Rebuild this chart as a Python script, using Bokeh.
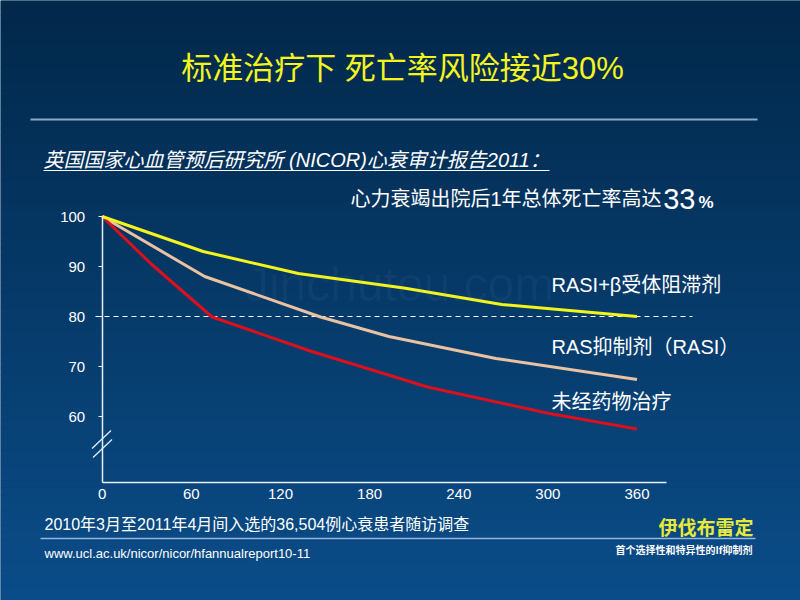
import numpy as np
from bokeh.plotting import figure
from bokeh.models import LinearAxis, FixedTicker, Label
from bokeh.embed import file_html
from bokeh.resources import INLINE

# ---------------- data ----------------
title_text = "标准治疗下 死亡率风险接近30%"
subtitle_text = "英国国家心血管预后研究所 (NICOR)心衰审计报告2011："
headline_text = "心力衰竭出院后1年总体死亡率高达"
headline_num = "33"
headline_pct = "%"

days_beta = [0, 68, 132, 203, 269, 360]
surv_beta = [100, 93.0, 88.6, 85.7, 82.4, 80.0]
days_rasi = [0, 69, 147, 193, 265, 360]
surv_rasi = [100, 88.0, 79.9, 76.0, 71.6, 67.4]
days_none = [0, 33, 74, 140, 219, 301, 360]
surv_none = [100, 90.5, 79.9, 73.1, 65.9, 60.6, 57.5]

series_names = ["RASI+β受体阻滞剂", "RAS抑制剂（RASI）", "未经药物治疗"]
series_colors = ["#f4f41c", "#e9c2a2", "#dc0f1c"]

x_ticks = [0, 60, 120, 180, 240, 300, 360]
x_tick_labels = ["0", "60", "120", "180", "240", "300", "360"]
y_ticks = [60, 70, 80, 90, 100]
y_tick_labels = ["60", "70", "80", "90", "100"]
ref_level = 80
y_axis_floor = 46.8

footnote_text = "2010年3月至2011年4月间入选的36,504例心衰患者随访调查"
url_text = "www.ucl.ac.uk/nicor/nicor/hfannualreport10-11"
brand_text = "伊伐布雷定"
brand_sub = "首个选择性和特异性的If抑制剂"
watermark = "Jinchutou.com"

# ---------------- geometry (page pixel -> data) ----------------
W, H = 800, 600
PX_PER_DAY = 1.4856
PX_PER_UNIT = 5.0
X0_PX = 101.7   # page px of day 0
Y100_PX = 216.0  # page px of value 100


def DX(px):
    return (px - X0_PX) / PX_PER_DAY


def DY(py):
    return 100 - (py - Y100_PX) / PX_PER_UNIT


xs, xe = DX(0), DX(W)
yt, yb = DY(0), DY(H)

CJK = "Liberation Sans, Noto Sans CJK SC"
LAT = "Liberation Sans"

p = figure(width=W, height=H, x_range=(xs, xe), y_range=(yb, yt),
           output_backend="svg", toolbar_location=None, min_border=0,
           x_axis_type=None, y_axis_type=None)
p.outline_line_color = None
p.background_fill_color = "#06386a"
p.border_fill_color = "#06386a"

# background gradient
n = 80
edges = np.linspace(yt, yb, n + 1)
c_top = np.array([0x02, 0x28, 0x4a])
c_bot = np.array([0x0b, 0x4d, 0x89])
cols = []
for i in range(n):
    t = (i + 0.5) / n
    c = (c_top * (1 - t) + c_bot * t).astype(int)
    cols.append("#%02x%02x%02x" % tuple(c))
p.quad(left=xs, right=xe, top=edges[:-1] + 0.05, bottom=edges[1:] - 0.05,
       fill_color=cols, line_color=None)

# watermark
p.add_layout(Label(x=DX(399), y=DY(284), text=watermark, text_align="center",
                   text_baseline="middle", text_font=LAT,
                   text_font_size="48px", text_color="#9fb3c8", text_alpha=0.06))

# title + rule
p.add_layout(Label(x=DX(402), y=DY(68), text=title_text, text_align="center",
                   text_baseline="middle", text_font=CJK, text_font_size="31px",
                   text_color="#f5f51e"))
p.segment(x0=[DX(30)], y0=[DY(119)], x1=[DX(757)], y1=[DY(119)],
          line_color="#8ea7c5", line_width=2)

# subtitle (italic, underlined)
p.add_layout(Label(x=DX(43), y=DY(159), text=subtitle_text, text_align="left",
                   text_baseline="middle", text_font=CJK, text_font_size="20px",
                   text_font_style="italic", text_color="white"))
p.segment(x0=[DX(43)], y0=[DY(170)], x1=[DX(549)], y1=[DY(170)],
          line_color="white", line_width=1.2)

# headline 33%
p.add_layout(Label(x=DX(661), y=DY(198), text=headline_text, text_align="right",
                   text_baseline="middle", text_font=CJK, text_font_size="20px",
                   text_color="white"))
p.add_layout(Label(x=DX(695), y=DY(198), text=headline_num, text_align="right",
                   text_baseline="middle", text_font=LAT,
                   text_font_size="29px", text_color="white"))
p.add_layout(Label(x=DX(713), y=DY(202), text=headline_pct, text_align="right",
                   text_baseline="middle", text_font=LAT,
                   text_font_size="17px", text_font_style="bold",
                   text_color="white"))

# reference dashed line
p.line(x=[DX(95), DX(692)], y=[ref_level, ref_level], line_color="white",
       line_width=1, line_dash="5 4")

# curves
p.line(days_rasi, surv_rasi, line_color=series_colors[1], line_width=3)
p.line(days_none, surv_none, line_color=series_colors[2], line_width=3)
p.line(days_beta, surv_beta, line_color=series_colors[0], line_width=3)

# series labels
for name, py in zip(series_names, [284, 346, 401]):
    p.add_layout(Label(x=DX(551), y=DY(py), text=name, text_align="left",
                       text_baseline="middle", text_font=CJK,
                       text_font_size="20px", text_color="white"))

# axes
xaxis = LinearAxis(fixed_location=y_axis_floor, bounds=(0, 380),
                   ticker=FixedTicker(ticks=x_ticks),
                   major_label_overrides=dict(zip(x_ticks, x_tick_labels)),
                   major_tick_out=0, major_tick_in=0, minor_tick_out=0, minor_tick_in=0,
                   axis_line_color="#e6eef8", axis_line_width=1.5,
                   major_label_text_color="white", major_label_text_font_size="15px",
                   major_label_text_font=LAT,
                   major_label_standoff=6)
p.add_layout(xaxis, "below")

yaxis = LinearAxis(fixed_location=0, bounds=(y_axis_floor, 100),
                   ticker=FixedTicker(ticks=y_ticks),
                   major_label_overrides=dict(zip(y_ticks, y_tick_labels)),
                   major_tick_out=4, major_tick_in=0, minor_tick_out=0, minor_tick_in=0,
                   major_tick_line_color="#e6eef8",
                   axis_line_color="#e6eef8", axis_line_width=1.5,
                   major_label_text_color="white", major_label_text_font_size="15px",
                   major_label_text_font=LAT,
                   major_label_standoff=13)
p.add_layout(yaxis, "left")

# axis break marks
p.segment(x0=[DX(91.5), DX(92.5)], y0=[DY(448), DY(457)],
          x1=[DX(110.5), DX(111.5)], y1=[DY(430), DY(439)],
          line_color="#e6eef8", line_width=1.3)

# footer
p.add_layout(Label(x=DX(44), y=DY(524), text=footnote_text, text_align="left",
                   text_baseline="middle", text_font=CJK, text_font_size="16px",
                   text_color="white"))
p.segment(x0=[DX(40)], y0=[DY(538)], x1=[DX(755)], y1=[DY(538)],
          line_color="#93b4dc", line_width=1.5)
p.add_layout(Label(x=DX(44), y=DY(553), text=url_text, text_align="left",
                   text_baseline="middle", text_font=LAT,
                   text_font_size="13px", text_color="white"))
p.add_layout(Label(x=DX(753), y=DY(526), text=brand_text, text_align="right",
                   text_baseline="middle", text_font="Noto Sans CJK SC",
                   text_font_size="19px", text_font_style="bold",
                   text_color="#e9e93a"))
p.add_layout(Label(x=DX(752), y=DY(549), text=brand_sub, text_align="right",
                   text_baseline="middle", text_font="Noto Sans CJK SC",
                   text_font_size="10px", text_font_style="bold",
                   text_color="white"))

open("out.html", "w").write(file_html(p, INLINE))
